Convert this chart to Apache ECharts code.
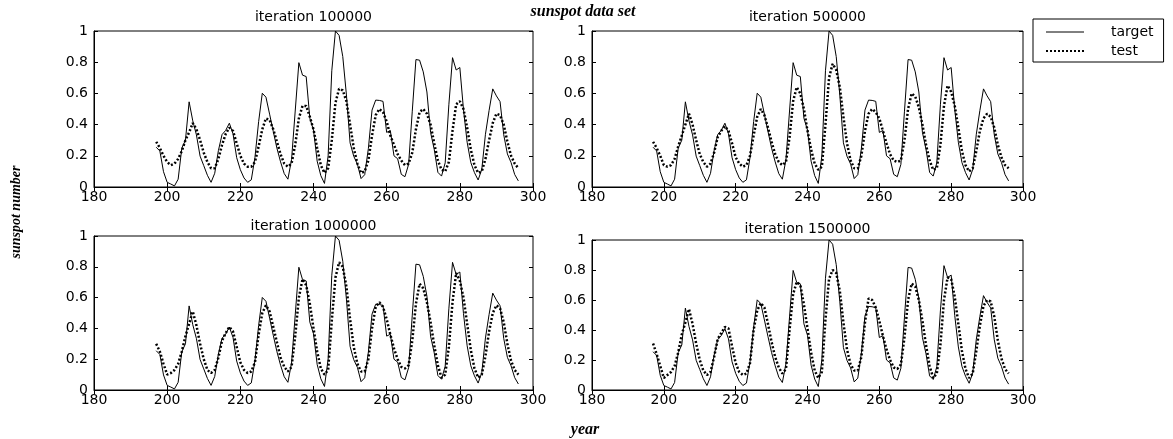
<!DOCTYPE html>
<html>
<head>
<meta charset="utf-8">
<script src="https://cdn.jsdelivr.net/npm/echarts@6/dist/echarts.min.js"></script>
<style>
  html, body { margin: 0; padding: 0; background: #fff; }
  #root { width: 1173px; height: 439px; }
</style>
</head>
<body>
<div id="root"></div>
<script>
// x values start at year 197, one value per year up to 296
const firstYear = 197;
const xTicks = [180, 200, 220, 240, 260, 280, 300];
const yTicks = [0, 0.2, 0.4, 0.6, 0.8, 1];
const panelTitles = ['iteration 100000', 'iteration 500000', 'iteration 1000000', 'iteration 1500000'];

// normalized sunspot numbers (target)
const target = [
  0.255, 0.231, 0.098, 0.030, 0.019, 0.007, 0.050, 0.249, 0.300, 0.546,
  0.424, 0.334, 0.198, 0.137, 0.075, 0.030, 0.088, 0.233, 0.336, 0.363,
  0.409, 0.341, 0.188, 0.111, 0.058, 0.030, 0.046, 0.190, 0.419, 0.601,
  0.576, 0.467, 0.356, 0.249, 0.161, 0.086, 0.050, 0.175, 0.487, 0.797,
  0.717, 0.708, 0.441, 0.365, 0.166, 0.073, 0.023, 0.200, 0.745, 1.000,
  0.972, 0.836, 0.590, 0.283, 0.197, 0.147, 0.054, 0.079, 0.247, 0.493,
  0.557, 0.555, 0.549, 0.350, 0.362, 0.200, 0.181, 0.081, 0.066, 0.145,
  0.486, 0.817, 0.813, 0.738, 0.609, 0.350, 0.241, 0.094, 0.070, 0.155,
  0.527, 0.829, 0.750, 0.766, 0.496, 0.287, 0.157, 0.092, 0.045, 0.113,
  0.338, 0.491, 0.629, 0.584, 0.547, 0.335, 0.212, 0.157, 0.080, 0.039
];

// network output (test), one array per panel
const test100k = [
  0.29, 0.25, 0.20, 0.16, 0.14, 0.15, 0.18, 0.23, 0.30, 0.35,
  0.41, 0.37, 0.30, 0.22, 0.16, 0.12, 0.12, 0.18, 0.27, 0.34,
  0.38, 0.36, 0.28, 0.20, 0.15, 0.13, 0.13, 0.16, 0.26, 0.37,
  0.44, 0.43, 0.37, 0.29, 0.21, 0.15, 0.13, 0.15, 0.27, 0.44,
  0.52, 0.52, 0.45, 0.37, 0.25, 0.14, 0.09, 0.12, 0.30, 0.54,
  0.63, 0.62, 0.55, 0.40, 0.25, 0.15, 0.09, 0.10, 0.17, 0.33,
  0.46, 0.50, 0.48, 0.42, 0.33, 0.27, 0.21, 0.17, 0.14, 0.15,
  0.22, 0.37, 0.48, 0.50, 0.47, 0.40, 0.28, 0.17, 0.11, 0.10,
  0.16, 0.36, 0.53, 0.55, 0.50, 0.38, 0.24, 0.14, 0.09, 0.10,
  0.18, 0.30, 0.41, 0.47, 0.46, 0.40, 0.29, 0.20, 0.15, 0.12
];
const test500k = [
  0.29, 0.25, 0.20, 0.14, 0.13, 0.14, 0.18, 0.26, 0.33, 0.40,
  0.47, 0.40, 0.30, 0.21, 0.16, 0.13, 0.15, 0.22, 0.32, 0.36,
  0.39, 0.36, 0.28, 0.19, 0.15, 0.13, 0.14, 0.20, 0.33, 0.45,
  0.50, 0.46, 0.38, 0.29, 0.21, 0.16, 0.14, 0.16, 0.32, 0.55,
  0.64, 0.60, 0.50, 0.36, 0.24, 0.15, 0.11, 0.13, 0.40, 0.70,
  0.79, 0.75, 0.64, 0.45, 0.28, 0.17, 0.12, 0.12, 0.20, 0.36,
  0.47, 0.50, 0.48, 0.44, 0.36, 0.28, 0.21, 0.17, 0.16, 0.17,
  0.30, 0.50, 0.60, 0.58, 0.51, 0.40, 0.27, 0.17, 0.11, 0.12,
  0.27, 0.52, 0.65, 0.61, 0.52, 0.38, 0.23, 0.14, 0.10, 0.12,
  0.23, 0.36, 0.44, 0.47, 0.45, 0.38, 0.27, 0.19, 0.14, 0.12
];
const test1000k = [
  0.30, 0.25, 0.17, 0.10, 0.11, 0.13, 0.17, 0.25, 0.35, 0.43,
  0.51, 0.42, 0.30, 0.20, 0.13, 0.11, 0.13, 0.21, 0.32, 0.37,
  0.41, 0.38, 0.28, 0.18, 0.13, 0.11, 0.12, 0.18, 0.36, 0.50,
  0.55, 0.51, 0.41, 0.31, 0.21, 0.15, 0.12, 0.15, 0.35, 0.60,
  0.72, 0.68, 0.56, 0.40, 0.25, 0.14, 0.10, 0.13, 0.45, 0.73,
  0.83, 0.80, 0.67, 0.46, 0.28, 0.17, 0.12, 0.12, 0.20, 0.40,
  0.54, 0.57, 0.54, 0.46, 0.36, 0.27, 0.20, 0.15, 0.14, 0.16,
  0.32, 0.56, 0.69, 0.66, 0.57, 0.44, 0.29, 0.16, 0.08, 0.10,
  0.28, 0.57, 0.76, 0.71, 0.60, 0.43, 0.26, 0.14, 0.08, 0.10,
  0.22, 0.38, 0.50, 0.55, 0.53, 0.44, 0.30, 0.19, 0.13, 0.10
];
const test1500k = [
  0.31, 0.24, 0.16, 0.08, 0.10, 0.12, 0.16, 0.25, 0.37, 0.45,
  0.54, 0.44, 0.31, 0.20, 0.13, 0.10, 0.12, 0.22, 0.34, 0.38,
  0.42, 0.41, 0.29, 0.18, 0.12, 0.10, 0.11, 0.18, 0.40, 0.53,
  0.58, 0.55, 0.44, 0.32, 0.22, 0.15, 0.11, 0.14, 0.40, 0.64,
  0.72, 0.70, 0.57, 0.41, 0.25, 0.13, 0.08, 0.12, 0.47, 0.74,
  0.80, 0.78, 0.66, 0.45, 0.27, 0.17, 0.13, 0.13, 0.22, 0.45,
  0.61, 0.60, 0.55, 0.46, 0.36, 0.27, 0.20, 0.15, 0.14, 0.17,
  0.35, 0.60, 0.71, 0.69, 0.60, 0.46, 0.30, 0.16, 0.08, 0.11,
  0.30, 0.60, 0.75, 0.74, 0.62, 0.44, 0.26, 0.14, 0.08, 0.11,
  0.26, 0.43, 0.56, 0.60, 0.59, 0.49, 0.33, 0.21, 0.14, 0.11
];
const tests = [test100k, test500k, test1000k, test1500k];

(function () {
  const chart = echarts.init(document.getElementById('root'), null, { renderer: 'canvas' });

  const panels = [
    { left: 94, top: 31, width: 439, height: 156 },
    { left: 592, top: 31, width: 431, height: 156 },
    { left: 94, top: 236, width: 439, height: 154 },
    { left: 592, top: 240, width: 431, height: 150 }
  ];
  const titleY = [17, 17, 226, 229];

  const labelFont = { fontFamily: 'DejaVu Sans', fontSize: 14, color: '#000' };
  const xmin = xTicks[0], xmax = xTicks[xTicks.length - 1];
  const ymin = yTicks[0], ymax = yTicks[yTicks.length - 1];

  const grid = [], xAxis = [], yAxis = [], series = [], graphic = [];

  panels.forEach((p, i) => {
    grid.push(Object.assign({ show: true, borderColor: '#000', borderWidth: 1, backgroundColor: '#fff' }, p));

    // bottom axis with labels, top axis for ticks only
    xAxis.push({
      type: 'value', gridIndex: i, min: xmin, max: xmax, interval: 20, position: 'bottom',
      axisLine: { show: true, onZero: false, lineStyle: { color: '#000', width: 1 } },
      axisTick: { show: true, inside: true, length: 4, lineStyle: { color: '#000' } },
      axisLabel: Object.assign({ margin: 3 }, labelFont),
      splitLine: { show: false }
    });
    xAxis.push({
      type: 'value', gridIndex: i, min: xmin, max: xmax, interval: 20, position: 'top',
      axisLine: { show: false },
      axisTick: { show: true, inside: true, length: 4, lineStyle: { color: '#000' } },
      axisLabel: { show: false },
      splitLine: { show: false }
    });
    yAxis.push({
      type: 'value', gridIndex: i, min: ymin, max: ymax, interval: 0.2, position: 'left',
      axisLine: { show: true, onZero: false, lineStyle: { color: '#000', width: 1 } },
      axisTick: { show: true, inside: true, length: 4, lineStyle: { color: '#000' } },
      axisLabel: Object.assign({ margin: 6 }, labelFont),
      splitLine: { show: false }
    });
    yAxis.push({
      type: 'value', gridIndex: i, min: ymin, max: ymax, interval: 0.2, position: 'right',
      axisLine: { show: false },
      axisTick: { show: true, inside: true, length: 4, lineStyle: { color: '#000' } },
      axisLabel: { show: false },
      splitLine: { show: false }
    });

    series.push({
      name: 'target', type: 'line', xAxisIndex: i * 2, yAxisIndex: i * 2,
      symbol: 'none', showSymbol: false, animation: false,
      lineStyle: { color: '#000', width: 1 },
      itemStyle: { color: '#000' },
      data: target.map((v, k) => [firstYear + k, v])
    });
    series.push({
      name: 'test', type: 'line', xAxisIndex: i * 2, yAxisIndex: i * 2,
      symbol: 'none', showSymbol: false, animation: false,
      lineStyle: { color: '#000', width: 2.5, type: [2, 2] },
      itemStyle: { color: '#000' },
      data: tests[i].map((v, k) => [firstYear + k, v])
    });

    graphic.push({
      type: 'text', x: p.left + p.width / 2, y: titleY[i],
      style: { text: panelTitles[i], fill: '#000', font: '14px "DejaVu Sans"', textAlign: 'center', textVerticalAlign: 'middle' }
    });
  });

  graphic.push({
    type: 'text', x: 583, y: 12,
    style: { text: 'sunspot data set', fill: '#000', font: 'italic bold 16px "Liberation Serif"', textAlign: 'center', textVerticalAlign: 'middle' }
  });
  graphic.push({
    type: 'text', x: 585, y: 430,
    style: { text: 'year', fill: '#000', font: 'italic bold 16px "Liberation Serif"', textAlign: 'center', textVerticalAlign: 'middle' }
  });
  graphic.push({
    type: 'text', x: 16, y: 212, rotation: Math.PI / 2,
    style: { text: 'sunspot number', fill: '#000', font: 'italic bold 14px "Liberation Serif"', textAlign: 'center', textVerticalAlign: 'middle' }
  });

  const option = {
    backgroundColor: '#fff',
    animation: false,
    grid: grid,
    xAxis: xAxis,
    yAxis: yAxis,
    legend: {
      data: [
        { name: 'target', lineStyle: { width: 1 } },
        { name: 'test', lineStyle: { width: 2, type: [2, 2] } }
      ],
      orient: 'vertical',
      left: 1033, top: 19,
      backgroundColor: '#fff',
      borderColor: '#000', borderWidth: 1, borderRadius: 0,
      padding: [6, 10, 4, 12],
      itemWidth: 38, itemHeight: 12, itemGap: 5,
      itemStyle: { opacity: 0 },
      textStyle: { fontFamily: 'DejaVu Sans', fontSize: 14, color: '#000', padding: [0, 0, 0, 22] }
    },
    graphic: graphic,
    series: series
  };

  chart.setOption(option);
})();
</script>
</body>
</html>
